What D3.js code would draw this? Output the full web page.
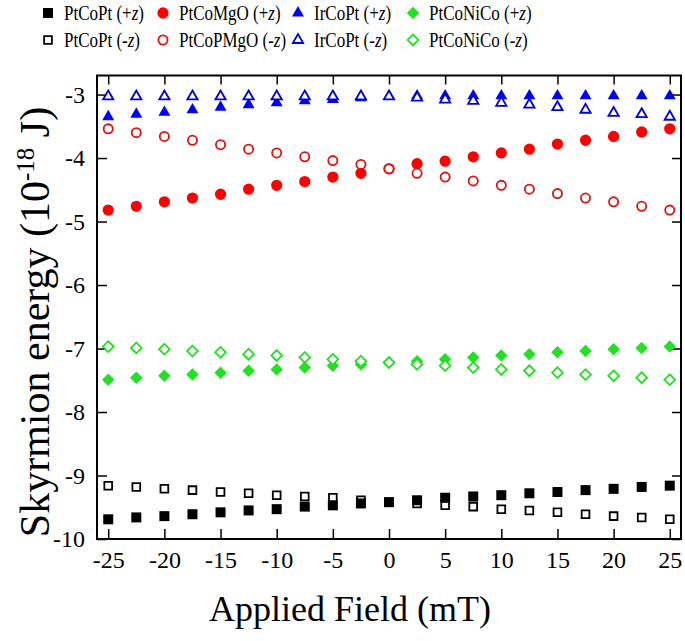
<!DOCTYPE html>
<html>
<head>
<meta charset="utf-8">
<script src="https://cdnjs.cloudflare.com/ajax/libs/d3/7.8.5/d3.min.js"></script>
<style>
  body { margin: 0; background: #fff; }
  text { font-family: "Liberation Serif", "Times New Roman", serif; fill: #000; }
</style>
</head>
<body>
<div id="chart"></div>
<script>
// applied field (mT)
const fields = [-25, -22.5, -20, -17.5, -15, -12.5, -10, -7.5, -5, -2.5, 0, 2.5, 5, 7.5, 10, 12.5, 15, 17.5, 20, 22.5, 25];

// skyrmion energy (1e-18 J)
const ptcoptPlus  = [-9.69, -9.66, -9.64, -9.61, -9.58, -9.55, -9.53, -9.49, -9.47, -9.44, -9.42, -9.39, -9.35, -9.33, -9.31, -9.28, -9.26, -9.23, -9.21, -9.18, -9.16];
const ptcoptMinus = [-9.16, -9.18, -9.21, -9.23, -9.26, -9.28, -9.31, -9.33, -9.35, -9.39, -9.42, -9.44, -9.47, -9.49, -9.53, -9.55, -9.58, -9.61, -9.64, -9.66, -9.69];
const mgoPlus     = [-4.82, -4.76, -4.69, -4.63, -4.57, -4.49, -4.43, -4.37, -4.30, -4.24, -4.17, -4.09, -4.05, -3.98, -3.92, -3.86, -3.78, -3.72, -3.66, -3.59, -3.54];
const mgoMinus    = [-3.54, -3.60, -3.66, -3.72, -3.79, -3.86, -3.92, -3.98, -4.04, -4.10, -4.17, -4.24, -4.30, -4.36, -4.43, -4.49, -4.56, -4.63, -4.69, -4.76, -4.82];
const irPlus      = [-3.35, -3.31, -3.28, -3.24, -3.20, -3.16, -3.13, -3.10, -3.08, -3.05, -3.03, -3.02, -3.02, -3.02, -3.02, -3.02, -3.02, -3.02, -3.02, -3.02, -3.02];
const irMinus     = [-3.03, -3.03, -3.03, -3.03, -3.03, -3.03, -3.03, -3.03, -3.03, -3.03, -3.03, -3.05, -3.08, -3.10, -3.13, -3.16, -3.20, -3.24, -3.29, -3.31, -3.35];
const nicoPlus    = [-7.49, -7.46, -7.43, -7.41, -7.38, -7.35, -7.33, -7.30, -7.27, -7.25, -7.22, -7.20, -7.17, -7.14, -7.11, -7.09, -7.06, -7.04, -7.01, -6.99, -6.97];
const nicoMinus   = [-6.97, -6.99, -7.01, -7.04, -7.06, -7.09, -7.11, -7.14, -7.17, -7.20, -7.22, -7.25, -7.27, -7.30, -7.33, -7.35, -7.38, -7.41, -7.43, -7.46, -7.49];

const xTicks = [-25, -20, -15, -10, -5, 0, 5, 10, 15, 20, 25];
const yTicks = [-10, -9, -8, -7, -6, -5, -4, -3];

const W = 685, H = 641;
const margin = { left: 97, right: 681, top: 75.5, bottom: 539 };

const svg = d3.select("#chart").append("svg")
    .attr("width", W)
    .attr("height", H);

const x = d3.scaleLinear().domain([-26, 26]).range([margin.left, margin.right]);
const y = d3.scaleLinear().domain([-10, -2.7]).range([margin.bottom, margin.top]);

const red = "#ff0000", blue = "#0000ff", green = "#22e022";

// series in draw order
const series = [
    { name: "PtCoPt", sign: "-", values: ptcoptMinus, shape: d3.symbolSquare, size: 60, color: "#000", open: true },
    { name: "PtCoPt", sign: "+", values: ptcoptPlus, shape: d3.symbolSquare, size: 100, color: "#000", open: false },
    { name: "PtCoMgO", sign: "+", values: mgoPlus, shape: d3.symbolCircle, size: 100, color: red, open: false },
    { name: "PtCoPMgO", sign: "-", values: mgoMinus, shape: d3.symbolCircle, size: 66, color: "#dd1111", open: true },
    { name: "IrCoPt", sign: "+", values: irPlus, shape: d3.symbolTriangle, size: 62, color: blue, open: false },
    { name: "IrCoPt", sign: "-", values: irMinus, shape: d3.symbolTriangle, size: 46, color: "#0000dd", open: true },
    { name: "PtCoNiCo", sign: "+", values: nicoPlus, shape: d3.symbolSquare, size: 78, color: green, open: false, rot: 45 },
    { name: "PtCoNiCo", sign: "-", values: nicoMinus, shape: d3.symbolSquare, size: 58, color: green, open: true, rot: 45 }
];

// axes with inward ticks
svg.append("g")
    .attr("transform", "translate(" + margin.left + ",0)")
    .call(d3.axisLeft(y).tickValues(yTicks).tickFormat(d => String(d)).tickSizeInner(-10).tickSizeOuter(0).tickPadding(12))
    .call(g => g.select(".domain").remove())
    .selectAll("text").style("font-size", "24px");

svg.append("g")
    .attr("transform", "translate(" + margin.right + ",0)")
    .call(d3.axisRight(y).tickValues(yTicks).tickFormat("").tickSizeInner(-9).tickSizeOuter(0))
    .call(g => g.select(".domain").remove());

svg.append("g")
    .attr("transform", "translate(0," + margin.bottom + ")")
    .call(d3.axisBottom(x).tickValues(xTicks).tickFormat(d => String(d)).tickSizeInner(-10).tickSizeOuter(0).tickPadding(12))
    .call(g => g.select(".domain").remove())
    .selectAll("text").style("font-size", "24px");

svg.append("g")
    .attr("transform", "translate(0," + margin.top + ")")
    .call(d3.axisTop(x).tickValues(xTicks).tickFormat("").tickSizeInner(-9).tickSizeOuter(0))
    .call(g => g.select(".domain").remove());

svg.selectAll(".tick line").attr("stroke", "#000").attr("stroke-width", 1.5);

svg.append("rect")
    .attr("x", margin.left).attr("y", margin.top)
    .attr("width", margin.right - margin.left).attr("height", margin.bottom - margin.top)
    .attr("fill", "none").attr("stroke", "#000").attr("stroke-width", 2);

// markers
series.forEach(s => {
    svg.append("g").selectAll("path")
        .data(s.values)
        .enter().append("path")
        .attr("d", d3.symbol().type(s.shape).size(s.size))
        .attr("transform", (d, i) => "translate(" + x(fields[i]) + "," + y(d) + ")" + (s.rot ? " rotate(" + s.rot + ")" : ""))
        .attr("fill", s.open ? "#fff" : s.color)
        .attr("stroke", s.color)
        .attr("stroke-width", s.open ? 1.8 : 0);
});

// axis titles
svg.append("text")
    .attr("x", 350)
    .attr("y", 621)
    .attr("text-anchor", "middle")
    .style("font-size", "36px")
    .text("Applied Field (mT)");

const yt = svg.append("text")
    .attr("transform", "translate(49,322) rotate(-90)")
    .attr("text-anchor", "middle")
    .style("font-size", "42px");
yt.append("tspan").text("Skyrmion energy (10");
yt.append("tspan").attr("dy", -15).style("font-size", "25px").text("-18");
yt.append("tspan").attr("dy", 15).text(" J)");

// legend
const legendCols = [48, 163, 298, 413];
const legendRows = [13, 40];
const legendSeries = [
    [series[1], series[0]],
    [series[2], series[3]],
    [series[4], series[5]],
    [series[6], series[7]]
];
legendSeries.forEach((pair, c) => {
    pair.forEach((s, r) => {
        svg.append("path")
            .attr("d", d3.symbol().type(s.shape).size(s.size)())
            .attr("transform", "translate(" + legendCols[c] + "," + legendRows[r] + ")" + (s.rot ? " rotate(" + s.rot + ")" : ""))
            .attr("fill", s.open ? "#fff" : s.color)
            .attr("stroke", s.color)
            .attr("stroke-width", s.open ? 1.8 : 0);
        // legend text is narrow in the original, so squeeze it horizontally
        const t = svg.append("text")
            .attr("transform", "translate(" + (legendCols[c] + 16) + "," + (legendRows[r] + 7) + ") scale(0.85,1)")
            .style("font-size", "20px");
        t.append("tspan").text(s.name + " (" + s.sign);
        t.append("tspan").style("font-style", "italic").text("z");
        t.append("tspan").text(")");
    });
});
</script>
</body>
</html>
